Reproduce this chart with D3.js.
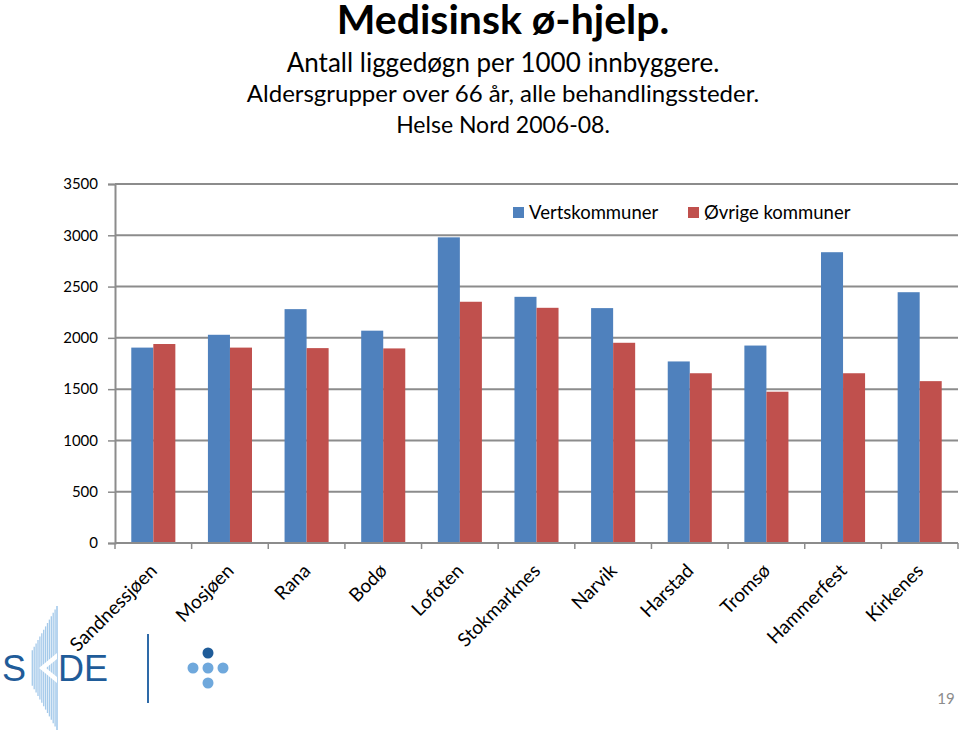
<!DOCTYPE html>
<meta charset="utf-8">
<style>
body { margin: 0; background: #fff; }
text { font-family: Lato, "Open Sans", sans-serif; }
</style>
<body>
  <div class="chart"></div>
</body>
<script src="https://cdn.jsdelivr.net/npm/d3@7"></script>
<script>

var regions = ["Sandnessjøen", "Mosjøen", "Rana", "Bodø", "Lofoten", "Stokmarknes",
               "Narvik", "Harstad", "Tromsø", "Hammerfest", "Kirkenes"];
var vertskommuner = [1905, 2030, 2280, 2070, 2980, 2400, 2290, 1770, 1925, 2835, 2445];
var ovrige = [1940, 1905, 1900, 1897, 2352, 2293, 1952, 1655, 1475, 1655, 1578];
var seriesNames = ["Vertskommuner", "Øvrige kommuner"];
var yTicks = [0, 500, 1000, 1500, 2000, 2500, 3000, 3500];
var titleLines = ["Antall liggedøgn per 1000 innbyggere.",
                  "Aldersgrupper over 66 år, alle behandlingssteder.",
                  "Helse Nord 2006-08."];

var width = 960, height = 735;
var colors = ["#4F81BD", "#C0504D"];
var gridColor = "#8c8c8c";

var svg = d3.select(".chart")
    .append("svg")
    .attr("width", width)
    .attr("height", height);

// titles
var titleX = 503;
svg.append("text")
    .attr("x", titleX).attr("y", 34)
    .attr("text-anchor", "middle")
    .style("font-size", "41px")
    .style("font-weight", "bold")
    .text("Medisinsk ø-hjelp.");

var subY = [72, 102, 133];
var subSize = [26, 24, 23];
svg.selectAll(".sub")
    .data(titleLines)
    .enter().append("text")
    .attr("class", "sub")
    .attr("x", titleX)
    .attr("y", function(d, i) { return subY[i]; })
    .attr("text-anchor", "middle")
    .style("font-size", function(d, i) { return subSize[i] + "px"; })
    .text(function(d) { return d; });

var plotLeft = 115, plotRight = 958, plotTop = 184, plotBottom = 543;

var x0 = d3.scaleBand()
    .domain(regions)
    .range([plotLeft, plotRight])
    .paddingInner(0.425)
    .paddingOuter(0.2125);

var x1 = d3.scaleBand()
    .domain([0, 1])
    .range([0, x0.bandwidth()]);

var y = d3.scaleLinear()
    .domain([0, 3500])
    .range([plotBottom, plotTop]);

// gridlines
svg.append("g")
    .selectAll("line")
    .data(yTicks.filter(function(d) { return d > 0; }))
    .enter().append("line")
    .attr("x1", plotLeft).attr("x2", plotRight)
    .attr("y1", function(d) { return y(d); })
    .attr("y2", function(d) { return y(d); })
    .attr("stroke", gridColor)
    .attr("stroke-width", 2);

// y axis
var yAxis = svg.append("g")
    .attr("transform", "translate(" + plotLeft + ",0)")
    .call(d3.axisLeft(y).tickValues(yTicks).tickFormat(d3.format("d")).tickSize(7).tickPadding(10));
yAxis.select(".domain").attr("stroke", gridColor).attr("stroke-width", 2);
yAxis.selectAll(".tick line").attr("stroke", gridColor).attr("stroke-width", 1.5);
yAxis.selectAll(".tick text")
    .style("font-family", "Lato, sans-serif")
    .style("font-size", "15px")
    .attr("fill", "#000");

// bars
var groups = svg.append("g")
    .selectAll("g")
    .data(regions)
    .enter().append("g")
    .attr("transform", function(d) { return "translate(" + x0(d) + ",0)"; });

groups.selectAll("rect")
    .data(function(d, i) { return [vertskommuner[i], ovrige[i]]; })
    .enter().append("rect")
    .attr("x", function(d, j) { return x1(j); })
    .attr("y", function(d) { return y(d); })
    .attr("width", x1.bandwidth())
    .attr("height", function(d) { return plotBottom - y(d); })
    .attr("fill", function(d, j) { return colors[j]; });

// x axis
var boundaries = d3.range(regions.length + 1).map(function(i) {
    return plotLeft + i * (plotRight - plotLeft) / regions.length;
});
svg.append("line")
    .attr("x1", plotLeft).attr("x2", plotRight)
    .attr("y1", plotBottom).attr("y2", plotBottom)
    .attr("stroke", gridColor).attr("stroke-width", 2);
svg.append("g")
    .selectAll("line")
    .data(boundaries)
    .enter().append("line")
    .attr("x1", function(d) { return d; }).attr("x2", function(d) { return d; })
    .attr("y1", plotBottom).attr("y2", plotBottom + 6)
    .attr("stroke", gridColor).attr("stroke-width", 1.5);

svg.append("g")
    .selectAll("text")
    .data(regions)
    .enter().append("text")
    .attr("transform", function(d) {
        return "translate(" + (x0(d) + x0.bandwidth() / 2 + 5) + "," + (plotBottom + 29) + ") rotate(-45)";
    })
    .attr("text-anchor", "end")
    .style("font-size", "19px")
    .text(function(d) { return d; });

// legend
var legendX = [513, 688];
var legend = svg.append("g")
    .selectAll("g")
    .data(seriesNames)
    .enter().append("g")
    .attr("transform", function(d, i) { return "translate(" + legendX[i] + ",207)"; });
legend.append("rect")
    .attr("width", 11).attr("height", 11)
    .attr("fill", function(d, i) { return colors[i]; });
legend.append("text")
    .attr("x", 16).attr("y", 12)
    .style("font-size", "18.5px")
    .text(function(d) { return d; });

// logo
var logo = svg.append("g");
var stripes = d3.range(-13, 1);
logo.selectAll(".stripe")
    .data(stripes)
    .enter().append("line")
    .attr("x1", function(d) { return 57 + d * 1.9; })
    .attr("x2", function(d) { return 57 + d * 1.9; })
    .attr("y1", function(d) { return 668 - (62 - Math.abs(d) * 3.4); })
    .attr("y2", function(d) { return 668 + (62 - Math.abs(d) * 3.4); })
    .attr("stroke", "#8fbde6")
    .attr("stroke-width", 1.3)
    .attr("opacity", function(d) { return d === 0 ? 1 : 0.8; });
logo.append("path")
    .attr("d", "M57,653 L39,668 L57,683 L57,677 L46,668 L57,659 Z")
    .attr("fill", "#fff");
logo.append("text")
    .attr("x", 2).attr("y", 681)
    .style("font-family", "'Liberation Sans', Arial, sans-serif")
    .style("font-size", "36px")
    .attr("fill", "#1f5c99")
    .text("S");
logo.append("text")
    .attr("x", 58).attr("y", 681)
    .style("font-family", "'Liberation Sans', Arial, sans-serif")
    .style("font-size", "36px")
    .attr("fill", "#1f5c99")
    .text("DE");
logo.append("line")
    .attr("x1", 148).attr("x2", 148)
    .attr("y1", 634).attr("y2", 703)
    .attr("stroke", "#2e6aa8").attr("stroke-width", 2);
var dots = [[208, 653, "#1f5c99"], [193, 668, "#6fa8dc"], [208, 668, "#6fa8dc"],
            [223, 668, "#6fa8dc"], [208, 683, "#6fa8dc"]];
logo.selectAll("circle")
    .data(dots)
    .enter().append("circle")
    .attr("cx", function(d) { return d[0]; })
    .attr("cy", function(d) { return d[1]; })
    .attr("r", 5.5)
    .attr("fill", function(d) { return d[2]; });

// page number
svg.append("text")
    .attr("x", 946).attr("y", 704)
    .attr("text-anchor", "middle")
    .style("font-size", "15px")
    .attr("fill", "#8c8c8c")
    .text("19");

</script>
